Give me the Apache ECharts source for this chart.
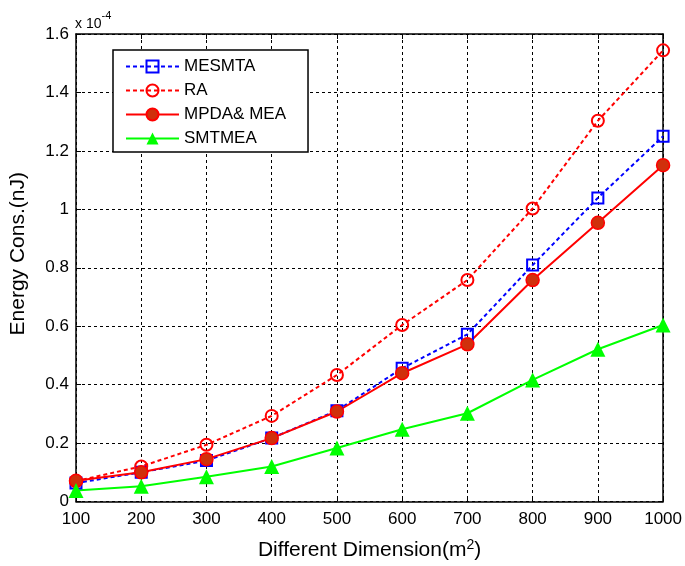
<!DOCTYPE html>
<html>
<head>
<meta charset="utf-8">
<script src="https://cdn.jsdelivr.net/npm/echarts@6/dist/echarts.min.js"></script>
<style>
  html, body { margin: 0; padding: 0; background: #fff; }
  #chart { width: 685px; height: 566px; }
</style>
</head>
<body>
<div id="chart"></div>
<script>
const font = 'Arial, "Liberation Sans", sans-serif'

// x values (m^2) and energy values in units of 1e-4 nJ
const dimensions = [100, 200, 300, 400, 500, 600, 700, 800, 900, 1000]
const mesmta = [0.063, 0.100, 0.140, 0.217, 0.311, 0.456, 0.572, 0.809, 1.039, 1.250]
const ra = [0.070, 0.120, 0.194, 0.293, 0.433, 0.604, 0.758, 1.003, 1.303, 1.544]
const mpdaMea = [0.071, 0.100, 0.145, 0.217, 0.308, 0.439, 0.538, 0.758, 0.954, 1.151]
const smtmea = [0.038, 0.052, 0.085, 0.120, 0.183, 0.247, 0.302, 0.416, 0.521, 0.604]
const seriesNames = ['MESMTA', 'RA', 'MPDA& MEA', 'SMTMEA']

const pairs = vals => dimensions.map((d, i) => [d, vals[i]])

const chart = echarts.init(document.getElementById('chart'))

const gridLine = { show: true, lineStyle: { color: '#000', type: [3, 3], width: 1 } }
const frame = { show: true, onZero: false, lineStyle: { color: '#000', width: 1.5 } }
const ticks = { show: true, inside: true, length: 5, lineStyle: { color: '#000' } }

const option = {
  animation: false,
  backgroundColor: '#fff',
  textStyle: { fontFamily: font },
  grid: { left: 73, right: 20, top: 34, bottom: 64 },
  graphic: [{
    type: 'text',
    left: 75,
    top: 10,
    style: {
      text: '{a|x 10}{b|-4}',
      rich: {
        a: { fontSize: 14, fontFamily: font, fill: '#000', padding: [7, 0, 0, 0] },
        b: { fontSize: 11, fontFamily: font, fill: '#000', verticalAlign: 'top' }
      }
    }
  }],
  legend: {
    orient: 'vertical',
    left: 113,
    top: 50,
    data: seriesNames,
    backgroundColor: '#fff',
    borderColor: '#000',
    borderWidth: 1.5,
    borderRadius: 0,
    padding: [8, 22, 5, 12],
    itemWidth: 53,
    itemHeight: 15,
    itemGap: 7,
    itemTextGap: 7,
    textStyle: { fontSize: 17, color: '#000', fontFamily: font }
  },
  xAxis: [{
    type: 'value',
    min: 100,
    max: 1000,
    interval: 100,
    name: 'Different Dimension(m{sup|2})',
    nameLocation: 'middle',
    nameGap: 37,
    nameTextStyle: {
      fontSize: 21, color: '#000', fontFamily: font,
      rich: { sup: { fontSize: 14, verticalAlign: 'top', padding: [0, 0, 10, 0], fontFamily: font, color: '#000' } }
    },
    axisLine: frame,
    axisTick: ticks,
    splitLine: gridLine,
    axisLabel: { fontSize: 17, color: '#000', margin: 9, fontFamily: font, formatter: v => String(v) }
  }, {
    type: 'value',
    position: 'top',
    min: 100,
    max: 1000,
    interval: 100,
    axisLine: frame,
    axisTick: ticks,
    splitLine: { show: false },
    axisLabel: { show: false }
  }],
  yAxis: [{
    type: 'value',
    min: 0,
    max: 1.6,
    interval: 0.2,
    name: 'Energy Cons.(nJ)',
    nameLocation: 'middle',
    nameGap: 47,
    nameTextStyle: { fontSize: 21, color: '#000', fontFamily: font, padding: [0, 0, 0, 28] },
    axisLine: frame,
    axisTick: ticks,
    splitLine: gridLine,
    axisLabel: {
      fontSize: 17, color: '#000', margin: 7, fontFamily: font,
      formatter: v => String(parseFloat(v.toFixed(1)))
    }
  }, {
    type: 'value',
    position: 'right',
    min: 0,
    max: 1.6,
    interval: 0.2,
    axisLine: frame,
    axisTick: ticks,
    splitLine: { show: false },
    axisLabel: { show: false }
  }],
  series: [
    {
      name: seriesNames[0],
      type: 'line',
      data: pairs(mesmta),
      symbol: 'rect',
      symbolSize: 11,
      itemStyle: { color: 'rgba(255,255,255,0)', borderColor: '#0000ff', borderWidth: 2 },
      lineStyle: { color: '#0000ff', width: 2, type: [4, 3] }
    },
    {
      name: seriesNames[1],
      type: 'line',
      data: pairs(ra),
      symbol: 'circle',
      symbolSize: 12,
      itemStyle: { color: 'rgba(255,255,255,0)', borderColor: '#ff0000', borderWidth: 2 },
      lineStyle: { color: '#ff0000', width: 2, type: [4, 3] }
    },
    {
      name: seriesNames[2],
      type: 'line',
      data: pairs(mpdaMea),
      symbol: 'circle',
      symbolSize: 13,
      itemStyle: { color: '#d0300c', borderColor: '#ff0000', borderWidth: 1.5 },
      lineStyle: { color: '#ff0000', width: 2 }
    },
    {
      name: seriesNames[3],
      type: 'line',
      data: pairs(smtmea),
      symbol: 'triangle',
      symbolSize: 15,
      itemStyle: { color: '#00ff00' },
      lineStyle: { color: '#00ff00', width: 2 }
    }
  ]
}

chart.setOption(option)
window.addEventListener('resize', () => chart.resize())
</script>
</body>
</html>
